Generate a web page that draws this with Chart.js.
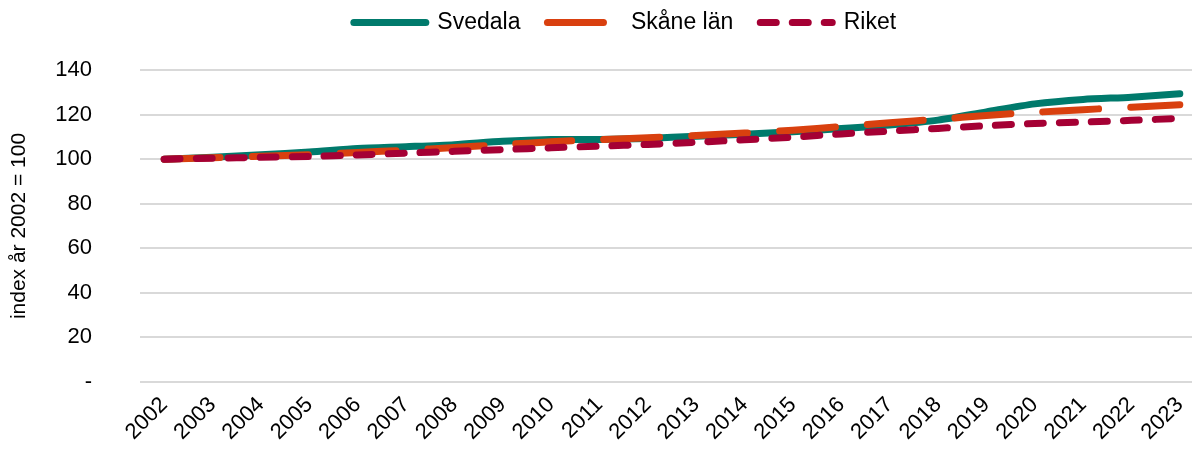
<!DOCTYPE html>
<html>
<head>
<meta charset="utf-8">
<script src="https://cdn.jsdelivr.net/npm/chart.js@4.4.1/dist/chart.umd.min.js"></script>
<style>
html,body{margin:0;padding:0;background:#fff;}
#wrap{width:1192px;height:450px;position:relative;}
</style>
</head>
<body>
<div id="wrap"><canvas id="c"></canvas></div>
<script>
const years = ["2002","2003","2004","2005","2006","2007","2008","2009","2010","2011","2012","2013","2014","2015","2016","2017","2018","2019","2020","2021","2022","2023"];
const svedala = [100,100.8,102.0,103.2,104.8,105.6,106.5,108.0,108.8,108.8,109.3,110.3,111.2,112.3,113.7,115.3,117.5,121.2,124.8,126.8,127.8,129.3];
const skane = [100,100.6,101.3,102.0,103.0,104.0,105.2,106.5,107.8,108.7,109.6,110.6,111.7,113.0,114.6,116.3,117.9,119.6,121.0,122.2,123.3,124.4];
const riket = [100,100.4,100.8,101.2,101.9,102.7,103.5,104.3,105.1,105.8,106.6,107.6,108.7,109.9,111.3,112.6,113.8,115.0,116.0,116.6,117.4,118.3];
const yTicks = [0,20,40,60,80,100,120,140];
const yTitle = "index år 2002 = 100";

const font = "'Liberation Sans', Arial, sans-serif";
const LAYOUT_TOP = -16;
const LEGEND_H = 86;
const RIGHT_EXTEND = 12;

const layoutTweaks = {
  id: 'layoutTweaks',
  beforeInit(chart) {
    if (!chart.legend) return;
    const orig = chart.legend.fit;
    chart.legend.fit = function() { orig.call(this); this.height = LEGEND_H; };
  },
  afterLayout(chart) {
    const x = chart.scales.x;
    x.right += RIGHT_EXTEND;
    x.width += RIGHT_EXTEND;
    x.configure();
    chart.chartArea.right += RIGHT_EXTEND;
    chart.chartArea.width += RIGHT_EXTEND;
  }
};

new Chart(document.getElementById('c'), {
  type: 'line',
  data: {
    labels: years,
    datasets: [
      {label:'Svedala', data:svedala, borderColor:'#007A6C', backgroundColor:'#007A6C', borderWidth:7, pointRadius:0, tension:0.25, borderCapStyle:'round', order:2},
      {label:'Skåne län', data:skane, borderColor:'#D9400F', backgroundColor:'#D9400F', borderWidth:7, pointRadius:0, tension:0.25, borderDash:[56,32], borderCapStyle:'round', order:1},
      {label:'Riket', data:riket, borderColor:'#A50034', backgroundColor:'#A50034', borderWidth:7, pointRadius:0, tension:0.25, borderDash:[16,16], borderCapStyle:'round', order:0}
    ]
  },
  plugins: [layoutTweaks],
  options: {
    responsive:true, maintainAspectRatio:false, animation:false,
    layout:{padding:{left:44,right:-14,top:LAYOUT_TOP,bottom:0}},
    plugins:{
      legend:{position:'top', labels:{
        usePointStyle:true, pointStyle:'line', pointStyleWidth:72, boxHeight:7, padding:27, color:'#000',
        font:{family:font,size:23},
        sort:(a,b)=>a.datasetIndex-b.datasetIndex,
        generateLabels:(chart)=>{
          const items = Chart.defaults.plugins.legend.labels.generateLabels(chart);
          items.forEach(it=>{
            const ds = chart.data.datasets[it.datasetIndex];
            it.lineDash = ds.borderDash ? ds.borderDash.slice() : [];
            it.lineCap = 'round';
            it.strokeStyle = ds.borderColor;
            it.lineWidth = 7;
          });
          return items;
        }
      }},
      tooltip:{enabled:false}
    },
    scales:{
      x:{
        offset:true,
        grid:{display:false, offset:true}, border:{display:false},
        ticks:{color:'#000', font:{family:font,size:22}, maxRotation:45, minRotation:45, padding:2, autoSkip:false},
        afterFit: ax => { ax.height = 68; ax.paddingRight = 0; ax.paddingLeft = 0; }
      },
      y:{
        min:0, max:140,
        afterBuildTicks: ax => { ax.ticks = yTicks.map(v=>({value:v})); },
        afterFit: ax => { ax.width = 96; ax.paddingBottom = 0; },
        grid:{color:'#d9d9d9', lineWidth:2, drawTicks:false}, border:{display:false},
        ticks:{color:'#000', font:{family:font,size:22}, padding:48, callback:v => v===0 ? '-' : String(v)},
        title:{display:true, text:yTitle, color:'#000', font:{family:font,size:21}, padding:{top:-37.6,bottom:0}}
      }
    }
  }
});
</script>
</body>
</html>
